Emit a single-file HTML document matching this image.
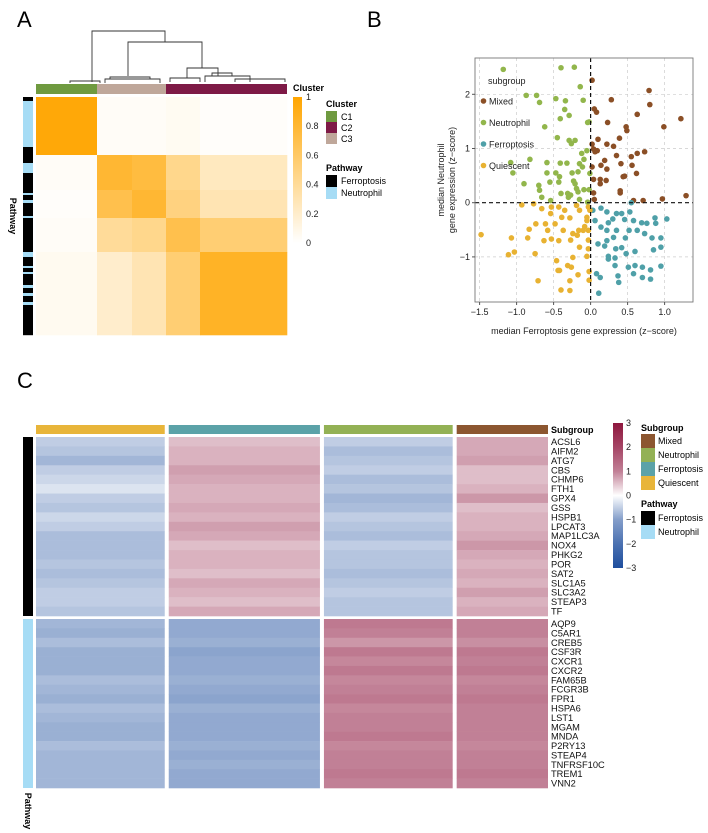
<!DOCTYPE html>
<html><head><meta charset="utf-8"><style>
html,body{margin:0;padding:0;background:#fff;}
svg{display:block;font-family:"Liberation Sans",sans-serif;}
</style></head><body>
<svg id="fig" width="708" height="833" viewBox="0 0 708 833" xmlns="http://www.w3.org/2000/svg">
<text x="17" y="27" font-size="22">A</text>
<text x="367" y="27" font-size="22">B</text>
<text x="17" y="388" font-size="22">C</text>
<g id="pa"></g>
<g id="pb"></g>
<g id="pc"></g>
</svg>
<script>
// ---------- Panel A data ----------
const clusterNames = ["C1","C3","C2"];
const clusterCounts = [61, 69, 121];
const colSegCounts = [61, 35, 34, 34, 87];
const rowSegCounts = [58, 35, 28, 34, 83];
const consensusVals = [
 [0.97,0.03,0.03,0.05,0.02],
 [0.03,0.80,0.75,0.45,0.25],
 [0.02,0.70,0.80,0.50,0.30],
 [0.03,0.40,0.45,0.70,0.55],
 [0.06,0.20,0.30,0.55,0.85]];
const pathwayRunsA = [["F",4],["N",46],["F",16],["N",10],["F",20],["N",2],["F",5],["N",3],["F",13],["N",2],["F",34],["N",5],["F",9],["N",2],["F",4],["N",2],["F",11],["N",3],["F",5],["N",3],["F",6],["N",3],["F",30]];
const cbTicks = [0,0.2,0.4,0.6,0.8,1];

// ---------- Panel B data ----------
const mixedX = [0.02,0.79,0.80,0.28,0.05,0.08,0.63,1.22,0.23,0.48,0.49,0.99,0.39,0.10,0.22,0.31,0.02,0.04,0.09,0.06,0.35,0.63,0.73,0.55,0.19,0.14,0.22,0.41,0.56,0.02,0.13,0.21,0.46,0.44,0.04,0.13,0.04,0.40,0.40,0.05,0.58,0.71,0.97,1.29,0.62];
const mixedY = [2.26,2.07,1.81,1.90,1.73,1.67,1.63,1.55,1.48,1.40,1.33,1.40,1.19,1.17,1.08,1.04,1.08,0.99,0.96,0.94,0.87,0.91,0.94,0.85,0.78,0.69,0.62,0.72,0.69,0.66,0.43,0.41,0.49,0.48,0.43,0.35,0.18,0.18,0.22,0.06,0.04,0.04,0.07,0.13,0.54];
const neutroX = [-1.18,-0.40,-0.22,-0.14,-0.87,-0.73,-0.69,-0.47,-0.34,-0.10,-0.35,-0.29,-0.41,-0.04,-0.02,-0.62,-0.45,-0.29,-0.21,-0.26,-0.12,-0.05,-1.08,-0.82,-1.05,-0.59,-0.41,-0.32,-0.09,-0.15,-0.59,-0.47,-0.42,-0.43,-0.25,-0.17,-0.11,-0.01,-0.90,-0.70,-0.69,-0.55,-0.40,-0.31,-0.21,-0.19,-0.17,-0.09,-0.02,-0.54,-0.66,-0.27,-0.15,-0.04,-0.23,-0.30];
const neutroY = [2.46,2.49,2.50,2.14,1.98,1.98,1.85,1.92,1.88,1.89,1.72,1.61,1.55,1.48,1.49,1.40,1.20,1.15,1.15,1.09,0.91,0.96,0.74,0.80,0.55,0.74,0.73,0.73,0.80,0.72,0.55,0.55,0.48,0.38,0.55,0.57,0.66,0.54,0.35,0.32,0.23,0.38,0.17,0.17,0.35,0.26,0.20,0.24,0.24,0.04,0.10,0.14,0.06,0.01,0.40,0.10];
const ferroX = [0.55,0.14,0.03,0.22,0.35,0.42,0.53,0.87,1.03,0.06,0.24,0.30,0.46,0.58,0.69,0.76,0.88,0.14,0.22,0.35,0.52,0.63,0.31,0.47,0.73,0.83,0.95,0.10,0.19,0.34,0.42,0.60,0.85,0.95,0.24,0.33,0.48,0.33,0.51,0.60,0.70,0.81,0.95,0.08,0.13,0.37,0.58,0.70,0.81,0.38,0.11,0.22,0.24];
const ferroY = [0.00,-0.10,-0.14,-0.17,-0.20,-0.20,-0.17,-0.28,-0.30,-0.33,-0.37,-0.30,-0.31,-0.33,-0.37,-0.38,-0.38,-0.45,-0.51,-0.51,-0.51,-0.51,-0.64,-0.65,-0.57,-0.65,-0.65,-0.76,-0.80,-0.85,-0.83,-0.90,-0.87,-0.82,-0.99,-1.02,-0.94,-1.16,-1.19,-1.16,-1.19,-1.24,-1.17,-1.31,-1.38,-1.35,-1.31,-1.38,-1.41,-1.47,-1.67,-0.70,-1.04];
const quiesX = [-0.93,-0.77,-0.66,-0.53,-0.43,-0.35,-0.19,-0.15,-0.03,-0.05,-0.54,-0.39,-0.28,-0.05,-0.74,-0.61,-0.48,-0.83,-0.58,-0.37,-0.16,-0.10,-0.03,-0.24,-0.18,-1.48,-1.07,-0.85,-0.63,-0.53,-0.43,-0.27,-0.03,-0.15,-0.03,-1.03,-1.11,-0.75,-0.46,-0.24,-0.05,-0.31,-0.26,-0.44,-0.42,-0.02,-0.17,-0.71,-0.28,-0.02,-0.40,-0.28,-0.01,-0.08];
const quiesY = [-0.04,-0.02,-0.11,-0.08,-0.08,-0.14,-0.05,-0.14,-0.08,-0.27,-0.20,-0.27,-0.28,-0.33,-0.39,-0.39,-0.39,-0.49,-0.51,-0.51,-0.51,-0.51,-0.51,-0.57,-0.60,-0.59,-0.65,-0.65,-0.70,-0.67,-0.70,-0.69,-0.69,-0.82,-0.85,-0.91,-0.96,-0.94,-1.07,-1.01,-0.99,-1.16,-1.19,-1.25,-1.25,-1.27,-1.33,-1.44,-1.44,-1.43,-1.61,-1.62,-0.14,-0.44];
const xTicks = [-1.5,-1.0,-0.5,0.0,0.5,1.0];
const yTicks = [-1,0,1,2];

// ---------- Panel C data ----------
const subgroupNames = ["Quiescent","Ferroptosis","Neutrophil","Mixed"];
const subgroupCounts = [86, 101, 86, 61];
const ferroGenes = ["ACSL6","AIFM2","ATG7","CBS","CHMP6","FTH1","GPX4","GSS","HSPB1","LPCAT3","MAP1LC3A","NOX4","PHKG2","POR","SAT2","SLC1A5","SLC3A2","STEAP3","TF"];
const neutroGenes = ["AQP9","C5AR1","CREB5","CSF3R","CXCR1","CXCR2","FAM65B","FCGR3B","FPR1","HSPA6","LST1","MGAM","MNDA","P2RY13","STEAP4","TNFRSF10C","TREM1","VNN2"];
const ferroMeans = [
 [-0.3,0.3,-0.3,0.5],[-0.4,0.4,-0.5,0.5],[-0.6,0.4,-0.4,0.6],[-0.3,0.6,-0.3,0.3],[-0.2,0.5,-0.5,0.3],
 [-0.1,0.4,-0.4,0.4],[-0.3,0.4,-0.6,0.7],[-0.4,0.5,-0.5,0.3],[-0.2,0.4,-0.3,0.4],[-0.3,0.6,-0.4,0.4],
 [-0.5,0.5,-0.5,0.5],[-0.5,0.3,-0.3,0.7],[-0.5,0.4,-0.4,0.5],[-0.4,0.4,-0.4,0.4],[-0.5,0.3,-0.5,0.5],
 [-0.4,0.5,-0.4,0.4],[-0.3,0.4,-0.3,0.6],[-0.3,0.3,-0.4,0.4],[-0.4,0.5,-0.4,0.5]];
const neutroMeans = [
 [-0.6,-0.8,1.1,1.0],[-0.7,-0.8,1.0,1.0],[-0.5,-0.7,0.7,0.8],[-0.7,-0.9,1.1,1.1],[-0.7,-0.8,0.9,1.0],
 [-0.7,-0.8,1.1,1.1],[-0.5,-0.7,0.9,0.9],[-0.6,-0.8,1.0,1.0],[-0.7,-0.9,1.1,1.1],[-0.5,-0.7,0.9,1.0],
 [-0.6,-0.8,1.0,1.0],[-0.7,-0.8,1.0,1.0],[-0.7,-0.8,1.1,1.0],[-0.5,-0.7,0.9,0.9],[-0.6,-0.8,1.0,1.0],
 [-0.6,-0.7,1.0,1.0],[-0.6,-0.8,1.1,1.1],[-0.6,-0.8,1.0,1.0]];
const cTicks = [-3,-2,-1,0,1,2,3];

const NS = "http://www.w3.org/2000/svg";
function mk(parent, tag, attrs, text){
  const e = document.createElementNS(NS, tag);
  for (const k in attrs) e.setAttribute(k, attrs[k]);
  if (text !== undefined) e.textContent = text;
  parent.appendChild(e); return e;
}
function orange(v){
  const r=255, g=Math.round(255-(255-165)*v), b=Math.round(255-255*v);
  return `rgb(${r},${g},${b})`;
}
function divColor(v){
  const t=Math.max(-1,Math.min(1,v/3));
  let c = t>=0 ? [142,23,62] : [30,78,158];
  const a=Math.pow(Math.abs(t),0.55);
  return `rgb(${Math.round(255+(c[0]-255)*a)},${Math.round(255+(c[1]-255)*a)},${Math.round(255+(c[2]-255)*a)})`;
}

// ===== Panel A =====
(function(){
  const g = document.getElementById('pa');
  const X0=36, X1=287, Y0=97, Y1=335;
  const totC = colSegCounts.reduce((a,b)=>a+b,0), totR = rowSegCounts.reduce((a,b)=>a+b,0);
  const sx = c => X0 + (X1-X0)*c/totC, sy = r => Y0 + (Y1-Y0)*r/totR;
  let rAcc=0;
  rowSegCounts.forEach((rc,i)=>{
    let cAcc=0;
    colSegCounts.forEach((cc,j)=>{
      const e = mk(g,'rect',{x:sx(cAcc),y:sy(rAcc),width:sx(cAcc+cc)-sx(cAcc)+0.3,height:sy(rAcc+rc)-sy(rAcc)+0.3,fill:orange(consensusVals[i][j])});
      
      
      cAcc+=cc;
    });
    rAcc+=rc;
  });
  const clColors = {C1:"#6f9a40",C2:"#7e1a46",C3:"#bfa79a"};
  const totK = clusterCounts.reduce((a,b)=>a+b,0);
  let k=0;
  clusterNames.forEach((n,i)=>{
    const x = X0+(X1-X0)*k/totK, w=(X1-X0)*clusterCounts[i]/totK;
    const e = mk(g,'rect',{x:x,y:84,width:w,height:10,fill:clColors[n]});
    
    
    k+=clusterCounts[i];
  });
  const totP = pathwayRunsA.reduce((a,b)=>a+b[1],0); let p=0;
  pathwayRunsA.forEach(([t,n])=>{
    const e = mk(g,'rect',{x:23,y:Y0+(Y1-Y0)*p/totP,width:10,height:(Y1-Y0)*n/totP+0.2,fill:t==="F"?"#000":"#a6dcf5"});
    
    
    p+=n;
  });
  const pl = mk(g,'text',{x:0,y:0,'font-size':9,'font-weight':'bold',transform:'translate(10,216) rotate(90)','text-anchor':'middle'},'Pathway');
   
  const dg = mk(g,'g',{stroke:'#333','stroke-width':0.9,fill:'none'});
   
  [["M92,82 V31 H165 V42"],["M128,76 V42 H202 V68"],["M187,78 V68 H218 V76"],
   ["M70,83 V81 H100 V83"],["M105,83 V79 H160 V83"],["M110,79 V77 H150 V79"],["M170,82 V78 H200 V82"],["M205,82 V76 H250 V82"],["M212,76 V73 H232 V76"],["M235,82 V79 H285 V82"]
  ].forEach(d=>mk(dg,'path',{d:d[0]}));
  let t = mk(g,'text',{x:293,y:91,'font-size':9,'font-weight':'bold'},'Cluster');
   
  const defs = mk(g,'defs',{});
  const lg = mk(defs,'linearGradient',{id:'og',x1:0,y1:1,x2:0,y2:0});
  mk(lg,'stop',{offset:0,'stop-color':orange(0)}); mk(lg,'stop',{offset:1,'stop-color':orange(1)});
  const cb = mk(g,'rect',{x:293,y:97,width:9,height:146,fill:'url(#og)'});
   
  cbTicks.forEach(v=>{
    const e = mk(g,'text',{x:306,y:243-146*v+3,'font-size':9,fill:'#222'},String(v));
     
  });
  t = mk(g,'text',{x:326,y:107,'font-size':9,'font-weight':'bold'},'Cluster');
   
  ["C1","C2","C3"].forEach((n,i)=>{
    const r = mk(g,'rect',{x:326,y:111+i*11,width:11,height:11,fill:clColors[n]});
     
    const e = mk(g,'text',{x:341,y:120+i*11,'font-size':9},n);
     
  });
  t = mk(g,'text',{x:326,y:171,'font-size':9,'font-weight':'bold'},'Pathway');
   
  [["Ferroptosis","#000"],["Neutrophil","#a6dcf5"]].forEach(([n,c],i)=>{
    const r = mk(g,'rect',{x:326,y:175+i*12,width:11,height:12,fill:c});
     
    const e = mk(g,'text',{x:341,y:184+i*12,'font-size':9},n);
     
  });
})();

// ===== Panel B =====
(function(){
  const g = document.getElementById('pb');
  const L=475, R=693, T=58, B=302;
  const sx = v => 590.6 + v*74;
  const sy = v => 202.7 - v*54.2;
  xTicks.forEach(v=>{ if(v!==0){ const e=mk(g,'line',{x1:sx(v),x2:sx(v),y1:T,y2:B,stroke:'#ccc','stroke-dasharray':'3,3','stroke-width':0.7});   }});
  yTicks.forEach(v=>{ if(v!==0){ const e=mk(g,'line',{x1:L,x2:R,y1:sy(v),y2:sy(v),stroke:'#ccc','stroke-dasharray':'3,3','stroke-width':0.7});   }});
  const series = [[mixedX,mixedY,"#8b4f26","mixed"],[neutroX,neutroY,"#92b64c","neutrophil"],[ferroX,ferroY,"#4fa0a8","ferroptosis"],[quiesX,quiesY,"#e8b232","quiescent"]];
  series.forEach(([xs,ys,c,n])=>{
    xs.forEach((xv,i)=>{
      const e = mk(g,'circle',{cx:sx(xv),cy:sy(ys[i]),r:2.8,fill:c});
      
      
    });
  });
  let e = mk(g,'line',{x1:sx(0),x2:sx(0),y1:T,y2:B,stroke:'#111','stroke-dasharray':'4,3','stroke-width':1.2});
   
  e = mk(g,'line',{x1:L,x2:R,y1:sy(0),y2:sy(0),stroke:'#111','stroke-dasharray':'4,3','stroke-width':1.2});
   
  e = mk(g,'rect',{x:L,y:T,width:R-L,height:B-T,fill:'none',stroke:'#777','stroke-width':0.9});
   
  xTicks.forEach(v=>{
    mk(g,'line',{x1:sx(v),x2:sx(v),y1:B,y2:B+3,stroke:'#555'});
    const t = mk(g,'text',{x:sx(v),y:B+13,'font-size':9,'text-anchor':'middle',fill:'#222'},v.toFixed(1).replace('-','\u2212'));
     
  });
  yTicks.forEach(v=>{
    mk(g,'line',{x1:L-3,x2:L,y1:sy(v),y2:sy(v),stroke:'#555'});
    const t = mk(g,'text',{x:L-5,y:sy(v)+3,'font-size':9,'text-anchor':'end',fill:'#222'},String(v).replace('-','\u2212'));
     
  });
  let t = mk(g,'text',{x:584,y:334,'font-size':9,'text-anchor':'middle',fill:'#222'},'median Ferroptosis gene expression (z\u2212score)');
   
  t = mk(g,'text',{x:0,y:0,'font-size':9,'text-anchor':'middle',fill:'#222',transform:'translate(444,180) rotate(-90)'},'median Neutrophil');
   
  t = mk(g,'text',{x:0,y:0,'font-size':9,'text-anchor':'middle',fill:'#222',transform:'translate(455,180) rotate(-90)'},'gene expression (z\u2212score)');
   
  t = mk(g,'text',{x:488,y:84,'font-size':9,fill:'#222'},'subgroup');
   
  [["Mixed","#8b4f26"],["Neutrophil","#92b64c"],["Ferroptosis","#4fa0a8"],["Quiescent","#e8b232"]].forEach(([n,c],i)=>{
    const y = 101 + i*21.5;
    const d = mk(g,'circle',{cx:483.5,cy:y,r:2.8,fill:c});
     
    const e2 = mk(g,'text',{x:489,y:y+3.3,'font-size':9,fill:'#222'},n);
     
  });
})();

// ===== Panel C =====
(function(){
  const g = document.getElementById('pc');
  const X0=36, X1=548, gap=4;
  const tot = subgroupCounts.reduce((a,b)=>a+b,0);
  const unit = (X1-X0-gap*3)/tot;
  const sgColors = {Quiescent:"#e8b53a",Ferroptosis:"#5ba2a8",Neutrophil:"#93b155",Mixed:"#8c5630"};
  const starts=[]; let acc=X0;
  subgroupCounts.forEach((n,i)=>{ starts.push(acc); acc += n*unit + gap; });
  subgroupNames.forEach((n,i)=>{
    const e = mk(g,'rect',{x:starts[i],y:425,width:subgroupCounts[i]*unit,height:9,fill:sgColors[n]});
     
  });
  let t = mk(g,'text',{x:551,y:433,'font-size':9,'font-weight':'bold'},'Subgroup');
   
  const blocks = [[ferroGenes,ferroMeans,437,616,"#000","ferroptosis"],[neutroGenes,neutroMeans,619,788,"#a6dcf5","neutrophil"]];
  blocks.forEach(([genes,means,y0,y1,pc,bn])=>{
    const rh = (y1-y0)/genes.length;
    const side = mk(g,'rect',{x:23,y:y0,width:10,height:y1-y0,fill:pc});
     
    genes.forEach((gn,r)=>{
      subgroupNames.forEach((s,j)=>{
        const e = mk(g,'rect',{x:starts[j],y:y0+r*rh,width:subgroupCounts[j]*unit,height:rh+0.3,fill:divColor(means[r][j])});
         
      });
      const l = mk(g,'text',{x:551,y:y0+r*rh+rh/2+3.3,'font-size':9.3,fill:'#111'},gn);
       
    });
  });
  t = mk(g,'text',{x:0,y:0,'font-size':9,'font-weight':'bold',transform:'translate(25,811) rotate(90)','text-anchor':'middle'},'Pathway');
   
  const defs = mk(g,'defs',{});
  const lg = mk(defs,'linearGradient',{id:'dg',x1:0,y1:1,x2:0,y2:0});
  cTicks.forEach((v,i)=>mk(lg,'stop',{offset:i/(cTicks.length-1),'stop-color':divColor(v)}));
  const cb = mk(g,'rect',{x:613,y:423,width:10,height:145,fill:'url(#dg)'});
   
  cTicks.forEach(v=>{
    const e = mk(g,'text',{x:626,y:568-145*(v+3)/6+3,'font-size':9,fill:'#222'},String(v).replace('-','\u2212'));
     
  });
  t = mk(g,'text',{x:641,y:431,'font-size':9,'font-weight':'bold'},'Subgroup');
   
  ["Mixed","Neutrophil","Ferroptosis","Quiescent"].forEach((n,i)=>{
    const r = mk(g,'rect',{x:641,y:434+i*14,width:14,height:14,fill:sgColors[n]});
     
    const e = mk(g,'text',{x:658,y:444+i*14,'font-size':9},n);
     
  });
  t = mk(g,'text',{x:641,y:507,'font-size':9,'font-weight':'bold'},'Pathway');
   
  [["Ferroptosis","#000"],["Neutrophil","#a6dcf5"]].forEach(([n,c],i)=>{
    const r = mk(g,'rect',{x:641,y:511+i*14,width:14,height:14,fill:c});
     
    const e = mk(g,'text',{x:658,y:521+i*14,'font-size':9},n);
     
  });
})();
</script>
</body></html>
